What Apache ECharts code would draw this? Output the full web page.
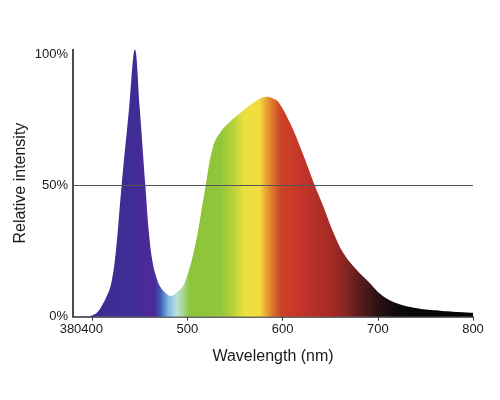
<!DOCTYPE html>
<html>
<head>
<meta charset="utf-8">
<script src="https://cdn.jsdelivr.net/npm/echarts@6/dist/echarts.min.js"></script>
<style>
html,body{margin:0;padding:0;background:#fff;}
#chart{width:500px;height:400px;}
</style>
</head>
<body>
<div id="chart"></div>
<script>
// Wavelength samples (nm) and relative intensity (%)
var wavelengths = [380, 395, 400, 405, 410, 415, 420, 425, 431, 439, 445, 450, 456, 460, 464, 468, 472, 477, 483, 490, 497, 508, 518, 527, 535, 545, 555, 565, 575, 583, 590, 596, 608, 621, 634, 643, 653, 664, 678, 692, 704, 720, 741, 765, 800];
var intensity   = [0, 0.2, 0.5, 1.5, 4, 7.5, 12.5, 25, 50, 80, 102, 80, 50, 31, 20, 14.5, 11.2, 9.1, 7.9, 9.6, 12.7, 26.7, 47.2, 64.9, 70.5, 74.5, 77.6, 80.5, 83, 84, 83.3, 81.8, 73.9, 62.5, 50, 42, 32.5, 24.2, 17.8, 12.7, 8.3, 5.1, 3.2, 2.3, 1.5];

// Axis tick labels
var xLabelValues = [400, 500, 600, 700, 800];
var xStartLabel = [380];
var xTickValues = [400, 500, 600, 700, 800];
var yLabelValues = [0, 50, 100];
var referenceLevel = 50;

// Spectrum colour stops (wavelength -> colour)
var spectrumWl = [380, 445, 458, 466, 472, 480, 489, 496, 503, 535, 548, 560, 576, 583, 590, 598, 620, 650, 665, 680, 700, 718, 740, 800];
var spectrumCol = ['#3a2e90', '#3f2d95', '#4b2a97', '#4a2c98', '#3e5db2', '#82b6e0', '#b8e2dc', '#a6d48a', '#8cc43c', '#92c63a', '#b8d23a', '#ece03e', '#f2dc40', '#e8a434', '#dd742c', '#cd4428', '#c4342a', '#a82a26', '#8a2424', '#5e1c1c', '#2c1214', '#100a0e', '#060608', '#040408'];

var wlMin = wavelengths[0], wlMax = wavelengths[wavelengths.length - 1];
var stops = spectrumWl.map(function (w, i) {
  return { offset: (w - wlMin) / (wlMax - wlMin), color: spectrumCol[i] };
});
var seriesData = wavelengths.map(function (w, i) { return [w, intensity[i]]; });

var font = "'Liberation Sans', Arial, Helvetica, sans-serif";
var labelStyle = { fontFamily: font, fontSize: 13, color: '#1a1a1a', margin: 6 };
var chart = echarts.init(document.getElementById('chart'));
chart.setOption({
  animation: false,
  backgroundColor: '#ffffff',
  grid: { left: 73, right: 27, top: 49.5, bottom: 83.3, containLabel: false },
  xAxis: [{
    type: 'value',
    min: 380, max: 800,
    name: 'Wavelength (nm)',
    nameLocation: 'middle',
    nameGap: 32,
    nameTextStyle: { fontFamily: font, fontSize: 16, color: '#1a1a1a' },
    axisLine: { show: true, lineStyle: { color: '#333', width: 1.5 } },
    axisTick: { show: true, length: 4, customValues: xTickValues, lineStyle: { color: '#333', width: 1 } },
    axisLabel: Object.assign({ customValues: xLabelValues, interval: 0 }, labelStyle),
    splitLine: { show: false }
  }, {
    type: 'value',
    position: 'bottom',
    min: 380, max: 800,
    axisLine: { show: false },
    axisTick: { show: false },
    axisLabel: Object.assign({ customValues: xStartLabel, interval: 0, showMinLabel: true, padding: [0, 5, 0, 0] }, labelStyle),
    splitLine: { show: false }
  }],
  yAxis: {
    type: 'value',
    min: 0, max: 102,
    name: 'Relative intensity',
    nameLocation: 'middle',
    nameRotate: 90,
    nameGap: 44,
    nameMoveOverlap: false,
    nameTextStyle: { fontFamily: font, fontSize: 16, color: '#1a1a1a' },
    axisLine: { show: true, lineStyle: { color: '#111', width: 1.5 } },
    axisTick: { show: false },
    axisLabel: { customValues: yLabelValues, formatter: '{value}%', fontFamily: font, fontSize: 13, color: '#1a1a1a', margin: 5 },
    splitLine: { show: false }
  },
  series: [{
    type: 'line',
    xAxisIndex: 0,
    data: seriesData,
    smooth: 0.4,
    showSymbol: false,
    lineStyle: { width: 0, opacity: 0 },
    areaStyle: {
      opacity: 1,
      color: new echarts.graphic.LinearGradient(0, 0, 1, 0, stops)
    },
    markLine: {
      silent: true,
      symbol: ['none', 'none'],
      label: { show: false },
      lineStyle: { color: '#555', width: 1.2, type: 'solid' },
      data: [{ yAxis: referenceLevel }],
      z: 10
    }
  }]
});
</script>
</body>
</html>
